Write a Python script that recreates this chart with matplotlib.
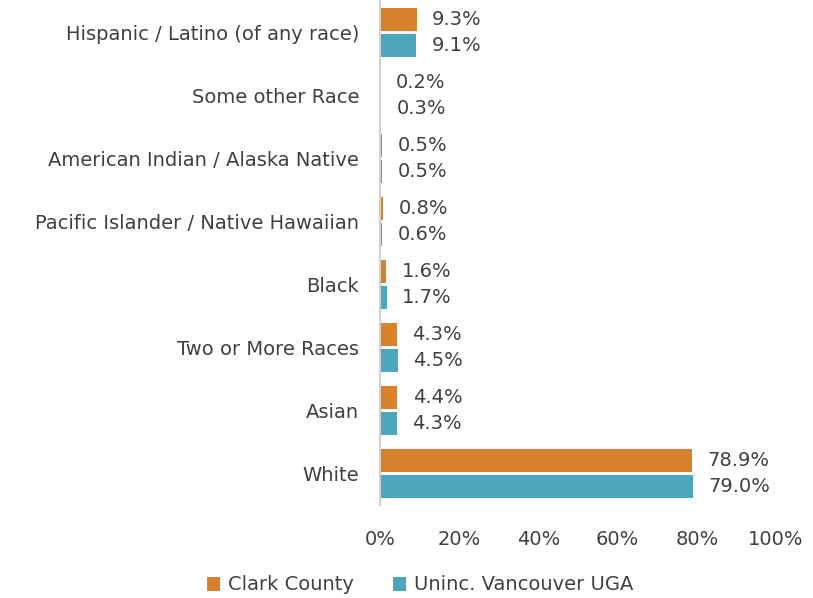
import matplotlib.pyplot as plt
import numpy as np

categories = ['Hispanic / Latino (of any race)', 'Some other Race',
              'American Indian / Alaska Native', 'Pacific Islander / Native Hawaiian',
              'Black', 'Two or More Races', 'Asian', 'White']
clark = [9.3, 0.2, 0.5, 0.8, 1.6, 4.3, 4.4, 78.9]
uga = [9.1, 0.3, 0.5, 0.6, 1.7, 4.5, 4.3, 79.0]
series_names = ['Clark County', 'Uninc. Vancouver UGA']
xticks = [0, 20, 40, 60, 80, 100]

orange = '#D9802B'
teal = '#4BA7BB'
text_col = '#404040'

plt.rcParams['font.family'] = ['DejaVu Sans']

fig = plt.figure(figsize=(8.13, 5.98), dpi=100)
ax = fig.add_axes([380 / 813, 1 - 505 / 598, 396 / 813, 504 / 598])

y = np.arange(len(categories))
h = 0.36
off = 0.205
ax.barh(y - off, clark, height=h, color=orange, label=series_names[0])
ax.barh(y + off, uga, height=h, color=teal, label=series_names[1])

# value labels just right of each bar
for vals, sign in [(clark, -1), (uga, 1)]:
    for yi, v in zip(y, vals):
        ax.annotate(f'{v:.1f}%', (v, yi + sign * off), xytext=(11, 0), textcoords='offset points',
                    va='center', ha='left', fontsize=14, color=text_col)

ax.set_ylim(len(categories) - 0.5, -0.5)
ax.set_xlim(0, 100)
ax.set_yticks(y)
ax.set_yticklabels(categories, fontsize=14, color=text_col)
ax.set_xticks(xticks)
ax.set_xticklabels([f'{t}%' for t in xticks], fontsize=14, color=text_col)
ax.tick_params(axis='both', length=0)
ax.tick_params(axis='y', pad=15)
ax.tick_params(axis='x', pad=18)
for s in ['top', 'right', 'bottom']:
    ax.spines[s].set_visible(False)
ax.spines['left'].set_color('#D0D0D0')
ax.spines['left'].set_linewidth(1.5)

ax.legend(loc='center', bbox_to_anchor=(420 / 813, 1 - 585 / 598), bbox_transform=fig.transFigure,
          ncol=2, frameon=False, fontsize=14, handlelength=0.7, handleheight=0.7,
          handletextpad=0.4, columnspacing=2.0, labelcolor=text_col)

fig.savefig('out.png', dpi=100)
